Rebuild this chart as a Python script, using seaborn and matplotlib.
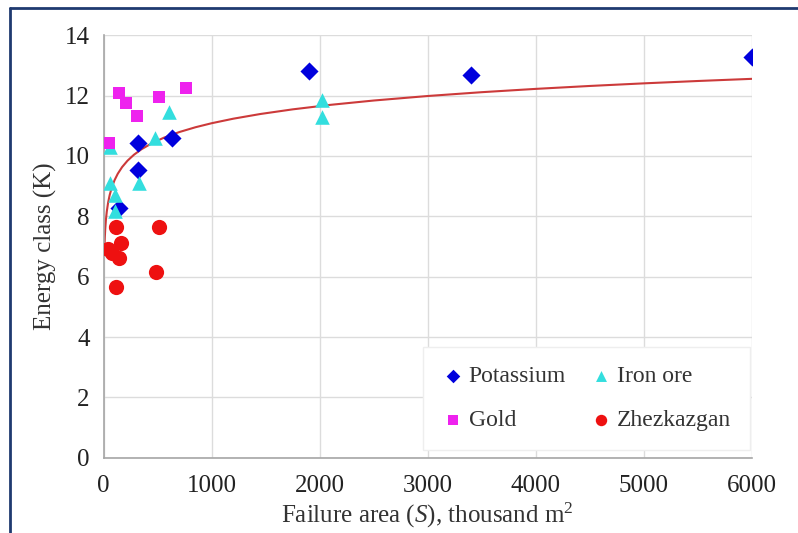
import numpy as np
import pandas as pd
import matplotlib
matplotlib.use("Agg")
import matplotlib.pyplot as plt
from matplotlib.lines import Line2D
import seaborn as sns

# ---- data ----
potassium_S = [1900, 3400, 6000, 317, 317, 142, 633]
potassium_K = [12.81, 12.68, 13.28, 10.44, 9.54, 8.29, 10.59]

iron_S = [56, 62, 102, 102, 327, 472, 605, 2021, 2021]
iron_K = [10.31, 9.10, 8.70, 8.16, 9.10, 10.59, 11.47, 11.85, 11.30]

gold_S = [49, 142, 204, 311, 509, 759]
gold_K = [10.42, 12.08, 11.74, 11.33, 11.96, 12.24]

zhez_S = [111, 509, 164, 40, 80, 142, 488, 111]
zhez_K = [7.64, 7.64, 7.11, 6.91, 6.78, 6.61, 6.17, 5.67]

series_names = ["Potassium", "Iron ore", "Gold", "Zhezkazgan"]

# logarithmic trend curve K = a + b ln(S) (coefficients)
trend_a = 5.42
trend_b = 0.82
trend_S = [5, 7, 10, 14, 20, 28, 40, 55, 75, 100, 130, 170, 220, 280, 350,
           450, 560, 700, 850, 1000, 1200, 1450, 1750, 2100, 2500, 3000,
           3500, 4000, 4500, 5000, 5500, 6000]

x_ticks = [0, 1000, 2000, 3000, 4000, 5000, 6000]
y_ticks = [0, 2, 4, 6, 8, 10, 12, 14]

# ---- build table ----
frames = []
for name, S, K in zip(series_names,
                      [potassium_S, iron_S, gold_S, zhez_S],
                      [potassium_K, iron_K, gold_K, zhez_K]):
    frames.append(pd.DataFrame({"S": S, "K": K, "Series": name}))
df = pd.concat(frames, ignore_index=True)

trend = pd.DataFrame({"S": trend_S})
trend["K"] = trend_a + trend_b * np.log(trend["S"])

# ---- style ----
sns.set_theme(style="whitegrid")
plt.rcParams["font.family"] = ["Liberation Serif", "DejaVu Serif"]
plt.rcParams["mathtext.fontset"] = "custom"
plt.rcParams["mathtext.rm"] = "Liberation Serif"
plt.rcParams["mathtext.it"] = "Liberation Serif:italic"

palette = {"Potassium": "#0000dd", "Iron ore": "#33dede",
           "Gold": "#ee22ee", "Zhezkazgan": "#ee1111"}
markers = {"Potassium": "D", "Iron ore": "^", "Gold": "s", "Zhezkazgan": "o"}
sizes = {"Potassium": 85, "Iron ore": 110, "Gold": 75, "Zhezkazgan": 120}

fig = plt.figure(figsize=(7.98, 5.33), dpi=100)
ax = fig.add_axes([0.130, 0.141, 0.812, 0.793])

for name in series_names:
    sub = df[df["Series"] == name]
    sns.scatterplot(data=sub, x="S", y="K", color=palette[name],
                    marker=markers[name], s=sizes[name], linewidth=0,
                    ax=ax, label=name, zorder=3)

sns.lineplot(data=trend, x="S", y="K", color="#cc3a3a", linewidth=1.5,
             ax=ax, zorder=2, legend=False)

ax.set_xlim(0, 6000)
ax.set_ylim(0, 14)
ax.set_xticks(x_ticks)
ax.set_yticks(y_ticks)
ax.tick_params(axis="x", labelsize=18, colors="#222222", length=0, pad=12)
ax.tick_params(axis="y", labelsize=18, colors="#222222", length=0, pad=10)
ax.grid(True, color="#dcdcdc", linewidth=1.0)
for side in ["top", "right"]:
    ax.spines[side].set_visible(False)
for side in ["left", "bottom"]:
    ax.spines[side].set_color("#a6a6a6")
    ax.spines[side].set_linewidth(1.2)

ax.set_xlabel(r"Failure area ($\mathit{S}$), thousand m$^{2}$", fontsize=18,
              color="#333333", labelpad=3)
ax.set_ylabel("Energy class (K)", fontsize=18, color="#333333", labelpad=6)

handles, labels = ax.get_legend_handles_labels()
order = [labels.index(n) for n in ["Potassium", "Gold", "Iron ore", "Zhezkazgan"]]
leg = ax.legend([handles[i] for i in order], [labels[i] for i in order],
                ncol=2, loc="lower right", bbox_to_anchor=(0.997, 0.019),
                borderaxespad=0, fontsize=17,
                frameon=True, fancybox=False,
                edgecolor="#eeeeee", facecolor="white", framealpha=1,
                handlelength=1.0, handletextpad=0.15, columnspacing=1.0,
                labelspacing=0.95, borderpad=0.8, markerscale=0.75)
leg.get_frame().set_linewidth(1.0)
for t in leg.get_texts():
    t.set_fontfamily("Liberation Serif")
    t.set_color("#333333")

# navy frame lines (top and left)
fig.add_artist(Line2D([10 / 798, 1.0], [1 - 8 / 533, 1 - 8 / 533],
                      color="#1f3a70", linewidth=2, transform=fig.transFigure))
fig.add_artist(Line2D([10 / 798, 10 / 798], [0, 1 - 8 / 533],
                      color="#1f3a70", linewidth=2, transform=fig.transFigure))

fig.savefig("out.png", dpi=100)
